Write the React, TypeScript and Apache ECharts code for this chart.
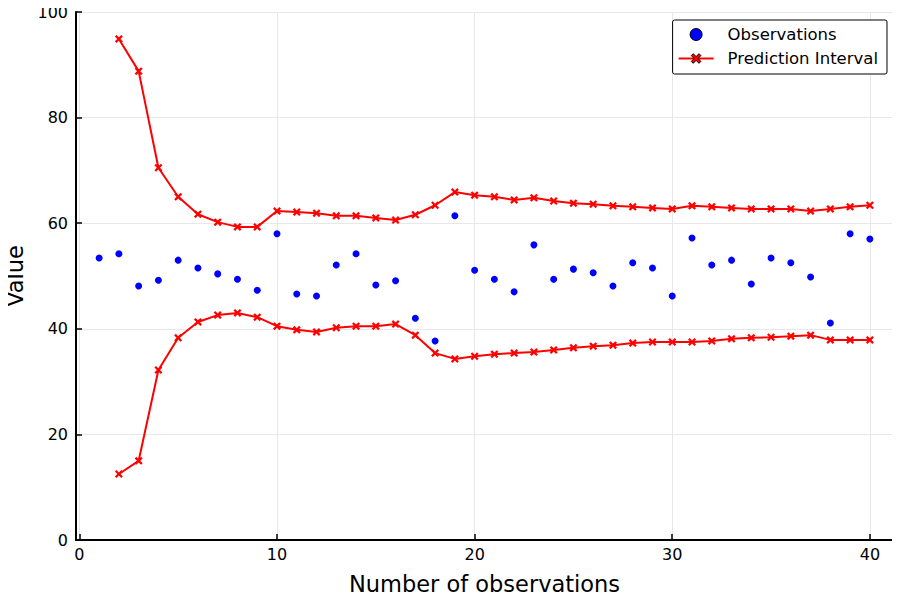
import React, { useEffect, useRef } from "react";
import * as echarts from "echarts";

const xTicks = [0, 10, 20, 30, 40];

const obsX = [1,2,3,4,5,6,7,8,9,10,11,12,13,14,15,16,17,18,19,20,21,22,23,24,25,26,27,28,29,30,31,32,33,34,35,36,37,38,39,40];
const obsY = [53.4,54.2,48.1,49.2,53.0,51.5,50.4,49.4,47.3,58.0,46.6,46.2,52.1,54.2,48.3,49.1,42.0,37.7,61.4,51.1,49.4,47.0,55.9,49.4,51.3,50.6,48.1,52.5,51.5,46.2,57.2,52.1,53.0,48.5,53.4,52.5,49.8,41.1,58.0,57.0];

const piX = [2,3,4,5,6,7,8,9,10,11,12,13,14,15,16,17,18,19,20,21,22,23,24,25,26,27,28,29,30,31,32,33,34,35,36,37,38,39,40];
const upperY = [94.9,88.8,70.5,65.0,61.7,60.2,59.3,59.3,62.3,62.1,61.9,61.4,61.4,61.0,60.6,61.6,63.4,65.9,65.3,65.0,64.4,64.8,64.2,63.8,63.6,63.3,63.1,62.9,62.7,63.3,63.1,62.9,62.7,62.7,62.7,62.3,62.7,63.1,63.4];
const lowerY = [12.5,15.0,32.2,38.3,41.3,42.6,43.0,42.2,40.5,39.8,39.4,40.2,40.5,40.5,40.9,38.8,35.4,34.3,34.8,35.2,35.4,35.6,36.0,36.4,36.7,36.9,37.3,37.5,37.5,37.5,37.7,38.1,38.3,38.4,38.6,38.8,37.9,37.9,37.9];

const xcross = "path://M0,2 L2,0 L5,3 L8,0 L10,2 L7,5 L10,8 L8,10 L5,7 L2,10 L0,8 L3,5 Z";
const FONT = "DejaVu Sans";

export default function App() {
  const ref = useRef<HTMLDivElement>(null);
  useEffect(() => {
    if (!ref.current) return;
    const chart = echarts.init(ref.current, null, { renderer: "svg" });
    const zip = (xs: number[], ys: number[]) => xs.map((x, i) => [x, ys[i]]);
    chart.setOption({
      animation: false,
      textStyle: { fontFamily: FONT },
      grid: { left: 76, right: 7, top: 12, bottom: 60, containLabel: false, outerBoundsMode: "none" },
      legend: {
        orient: "vertical",
        right: 13,
        top: 20,
        backgroundColor: "#fff",
        borderColor: "#000",
        borderWidth: 1,
        borderRadius: 2,
        padding: [6, 9, 7, 5],
        itemWidth: 35,
        itemHeight: 12,
        itemGap: 7,
        textStyle: { fontFamily: FONT, fontSize: 16.5, color: "#000", padding: [0, 0, 0, 9] },
        data: [
          { name: "Observations", icon: "circle", itemStyle: { color: "#0000ff", borderColor: "#000", borderWidth: 1, opacity: 1 } },
          { name: "Prediction Interval", itemStyle: { color: "#ff0000", borderColor: "#000", borderWidth: 1 } },
        ],
      },
      xAxis: {
        type: "value",
        min: -0.17,
        max: 41.17,
        name: "Number of observations",
        nameLocation: "middle",
        nameGap: 32,
        nameTextStyle: { fontFamily: FONT, fontSize: 22.5, color: "#000" },
        axisLine: { show: true, onZero: false, lineStyle: { color: "#000", width: 2 } },
        axisTick: { show: true, inside: true, length: 6, customValues: xTicks, lineStyle: { color: "#000", width: 1.5 } },
        axisLabel: { customValues: xTicks, fontFamily: FONT, fontSize: 16, color: "#000", margin: 6 },
        splitLine: { show: true, lineStyle: { color: "#e8e8e8", width: 1 } },
      },
      yAxis: {
        type: "value",
        min: 0,
        max: 100,
        interval: 20,
        name: "Value",
        nameLocation: "middle",
        nameGap: 50,
        nameTextStyle: { fontFamily: FONT, fontSize: 22.5, color: "#000" },
        axisLine: { show: true, onZero: false, lineStyle: { color: "#000", width: 2 } },
        axisTick: { show: true, inside: true, length: 6, lineStyle: { color: "#000", width: 1.5 } },
        axisLabel: { fontFamily: FONT, fontSize: 16, color: "#000", margin: 8 },
        splitLine: { show: true, lineStyle: { color: "#e8e8e8", width: 1 } },
      },
      series: [
        {
          name: "Observations",
          type: "scatter",
          data: zip(obsX, obsY),
          symbol: "circle",
          symbolSize: 7,
          itemStyle: { color: "#0000ff", opacity: 1 },
          z: 3,
        },
        {
          name: "Prediction Interval",
          type: "line",
          data: zip(piX, upperY),
          symbol: xcross,
          symbolSize: 8,
          showAllSymbol: true,
          lineStyle: { color: "#ff0000", width: 2 },
          itemStyle: { color: "#ff0000" },
          z: 2,
        },
        {
          name: "Prediction Interval",
          type: "line",
          data: zip(piX, lowerY),
          symbol: xcross,
          symbolSize: 8,
          showAllSymbol: true,
          lineStyle: { color: "#ff0000", width: 2 },
          itemStyle: { color: "#ff0000" },
          z: 2,
        },
      ],
    });
    return () => chart.dispose();
  }, []);
  return <div ref={ref} style={{ width: 900, height: 600, margin: -8 }} />;
}
